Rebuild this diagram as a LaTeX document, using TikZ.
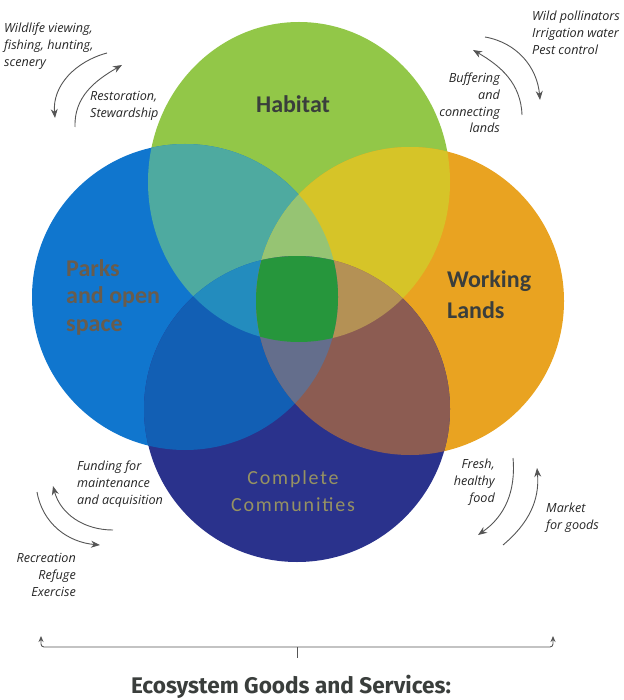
\documentclass[tikz,border=0pt]{standalone}
\usepackage{fontspec}
\setmainfont{Carlito}
\newfontfamily\notefont{Open Sans}
\newfontfamily\titlefont{Fira Sans}
\usetikzlibrary{arrows.meta}

% circle colours and their overlaps
\definecolor{habitatcol}{RGB}{146,199,72}
\definecolor{parkscol}{RGB}{16,118,206}
\definecolor{workingcol}{RGB}{233,163,33}
\definecolor{communitycol}{RGB}{42,50,140}
\definecolor{hpcol}{RGB}{78,170,160}
\definecolor{hwcol}{RGB}{214,196,40}
\definecolor{pccol}{RGB}{18,95,180}
\definecolor{wccol}{RGB}{140,92,82}
\definecolor{hpwcol}{RGB}{150,196,115}
\definecolor{hpccol}{RGB}{35,140,190}
\definecolor{hwccol}{RGB}{180,145,85}
\definecolor{pwccol}{RGB}{100,110,140}
\definecolor{allcol}{RGB}{38,150,60}
\definecolor{labelgray}{RGB}{58,62,60}
\definecolor{parkstext}{RGB}{105,92,76}
\definecolor{communitytext}{RGB}{150,146,98}
\definecolor{arrowgray}{RGB}{85,85,85}

% the four circles, in page pixels
\def\habitat{(299,-182) ellipse [x radius=151, y radius=160]}
\def\parks{(185,-297) circle [radius=153]}
\def\working{(410,-301) circle [radius=154]}
\def\community{(297,-409) circle [radius=153]}

\begin{document}
\begin{tikzpicture}[x=1pt, y=1pt,
    circlelabel/.style={font=\bfseries\fontsize{24}{31}\selectfont, text=labelgray, inner sep=0},
    note/.style={font=\notefont\itshape\fontsize{12.6}{16.8}\selectfont, text=black!85, inner sep=0},
    cyclearrow/.style={-{Stealth[length=9pt,width=7pt]}, draw=arrowgray, line width=0.9pt}]

        % fix the page
        \useasboundingbox (0,0) rectangle (623,-700);

        % single circles
        \fill[habitatcol] \habitat;
        \fill[parkscol] \parks;
        \fill[workingcol] \working;
        \fill[communitycol] \community;

        % two at a time
        \begin{scope} \clip \habitat; \fill[hpcol] \parks; \end{scope}
        \begin{scope} \clip \habitat; \fill[hwcol] \working; \end{scope}
        \begin{scope} \clip \parks; \fill[pccol] \community; \end{scope}
        \begin{scope} \clip \working; \fill[wccol] \community; \end{scope}

        % three at a time
        \begin{scope} \clip \habitat; \clip \parks; \fill[hpwcol] \working; \end{scope}
        \begin{scope} \clip \habitat; \clip \parks; \fill[hpccol] \community; \end{scope}
        \begin{scope} \clip \habitat; \clip \working; \fill[hwccol] \community; \end{scope}
        \begin{scope} \clip \parks; \clip \working; \fill[pwccol] \community; \end{scope}

        % all four
        \begin{scope} \clip \habitat; \clip \parks; \clip \working; \fill[allcol] \community; \end{scope}

        % circle labels
        \node[circlelabel] (habitat) at (293,-104) {Habitat};
        \node[circlelabel, anchor=west, align=left] (working) at (447,-295) {Working\\Lands};
        \node[circlelabel, anchor=west, align=left, text=parkstext, font=\bfseries\fontsize{24}{27.5}\selectfont] (parks) at (66,-297) {Parks\\and open\\space};
        \node[circlelabel, font=\fontsize{20}{27}\selectfont, text=communitytext, align=center] (community) at (293,-491)
            {\addfontfeatures{LetterSpace=9}Complete\\\addfontfeatures{LetterSpace=9}Communities};

        % notes round the circles
        \node[note, anchor=west, align=left] (viewing) at (4,-46) {Wildlife viewing,\\fishing, hunting,\\scenery};
        \node[note, anchor=west, align=left] (restoration) at (90,-106) {Restoration,\\Stewardship};
        \node[note, anchor=west, align=left] (pollinators) at (532,-33) {Wild pollinators\\Irrigation water\\Pest control};
        \node[note, anchor=east, align=right] (buffering) at (500,-103) {Buffering\\and\\connecting\\lands};
        \node[note, anchor=west, align=left] (funding) at (77,-484) {Funding for\\maintenance\\and acquisition};
        \node[note, anchor=east, align=right] (recreation) at (76,-575) {Recreation\\Refuge\\Exercise};
        \node[note, anchor=east, align=right] (fresh) at (495,-482) {Fresh,\\healthy\\food};
        \node[note, anchor=west, align=left] (market) at (546,-518) {Market\\for goods};

        % ends of the curved arrows
        \coordinate (tl a) at (107,-53);  \coordinate (tl b) at (55,-118);
        \coordinate (tl c) at (75,-127);  \coordinate (tl d) at (122,-65);
        \coordinate (tr a) at (485,-37);  \coordinate (tr b) at (540,-100);
        \coordinate (tr c) at (522,-115); \coordinate (tr d) at (473,-50);
        \coordinate (bl a) at (113,-530); \coordinate (bl b) at (53,-486);
        \coordinate (bl c) at (37,-492);  \coordinate (bl d) at (100,-545);
        \coordinate (br a) at (513,-458); \coordinate (br b) at (478,-535);
        \coordinate (br c) at (503,-545); \coordinate (br d) at (537,-468);

        \draw[cyclearrow] (tl a) to[out=195, in=95] (tl b);
        \draw[cyclearrow] (tl c) to[out=92, in=210] (tl d);
        \draw[cyclearrow] (tr a) to[out=-10, in=95] (tr b);
        \draw[cyclearrow] (tr c) to[out=92, in=-30] (tr d);
        \draw[cyclearrow] (bl a) to[out=180, in=-75] (bl b);
        \draw[cyclearrow] (bl c) to[out=-80, in=175] (bl d);
        \draw[cyclearrow] (br a) to[out=-85, in=35] (br b);
        \draw[cyclearrow] (br c) to[out=40, in=-85] (br d);

        % brace over the title
        \coordinate (brace left) at (41,-636);
        \coordinate (brace right) at (553,-636);
        \coordinate (brace mid) at (297,-647);
        \draw[arrowgray, line width=0.9pt, rounded corners=3pt, {Stealth[length=6pt,width=5pt]}-{Stealth[length=6pt,width=5pt]}]
            (brace left) |- (brace mid) -| (brace right);
        \draw[arrowgray, line width=0.9pt] (brace mid) -- ++(0,-11);

        % title
        \node[font=\titlefont\bfseries\fontsize{22.6}{26}\selectfont, text=labelgray] (title) at (291,-687) {Ecosystem Goods and Services:};
\end{tikzpicture}
\end{document}
